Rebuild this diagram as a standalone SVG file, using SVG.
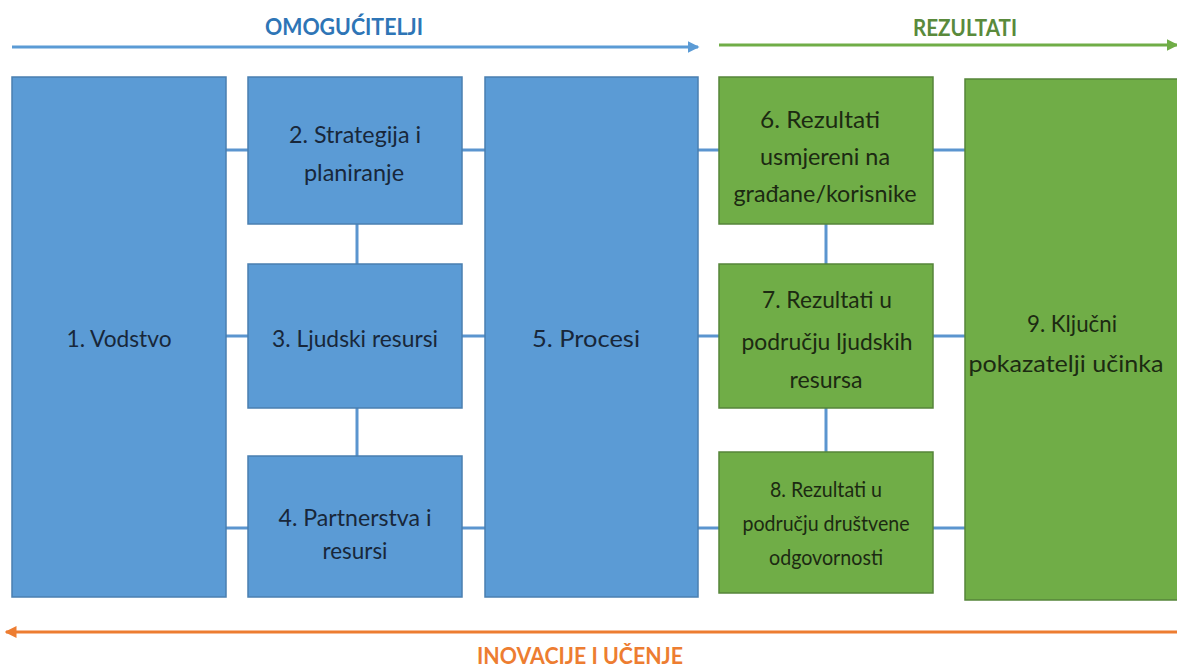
<svg xmlns="http://www.w3.org/2000/svg" width="1177" height="668" viewBox="0 0 1177 668">
<style>
.bg{fill:#ffffff}
.blue{fill:#5B9BD5;stroke:#4A7FB0;stroke-width:1.5}
.green{fill:#70AD47;stroke:#56853A;stroke-width:1.5}
.conn{stroke:#5B95CF;stroke-width:3;fill:none}
.t{font-family:Lato,"Open Sans","Liberation Sans",sans-serif;font-size:24px;text-anchor:middle}
.tb{fill:#18273A}
.tg{fill:#1C2A12}
.s{font-size:21px}
.title{font-family:Lato,"Open Sans","Liberation Sans",sans-serif;font-size:23px;font-weight:bold;text-anchor:middle}
</style>
<defs>
<marker id="ab" markerWidth="4" markerHeight="4" refX="3.5" refY="2" orient="auto" markerUnits="strokeWidth"><path d="M0,0 L4,2 L0,4 Z" fill="#5B9BD5"/></marker>
<marker id="ag" markerWidth="4" markerHeight="4" refX="3.5" refY="2" orient="auto" markerUnits="strokeWidth"><path d="M0,0 L4,2 L0,4 Z" fill="#70AD47"/></marker>
<marker id="ao" markerWidth="4" markerHeight="4" refX="3.5" refY="2" orient="auto" markerUnits="strokeWidth"><path d="M0,0 L4,2 L0,4 Z" fill="#ED7D31"/></marker>
</defs>
<rect class="bg" x="0" y="0" width="1177" height="668"/>

<g id="headers">
<text class="title" x="344" y="35" fill="#2E75B6" textLength="158" lengthAdjust="spacingAndGlyphs">OMOGUĆITELJI</text>
<line x1="12" y1="47" x2="698" y2="47" stroke="#5B9BD5" stroke-width="3" marker-end="url(#ab)"/>
<text class="title" x="965" y="36" fill="#5A8A3C" textLength="104" lengthAdjust="spacingAndGlyphs">REZULTATI</text>
<line x1="719" y1="45" x2="1177" y2="45" stroke="#70AD47" stroke-width="3" marker-end="url(#ag)"/>
<line x1="1177" y1="632" x2="6" y2="632" stroke="#ED7D31" stroke-width="3" marker-end="url(#ao)"/>
<text class="title" x="580" y="664" fill="#ED7D31" textLength="206" lengthAdjust="spacingAndGlyphs">INOVACIJE I UČENJE</text>
</g>

<g id="connectors">
<line class="conn" x1="226" y1="150" x2="248" y2="150"/>
<line class="conn" x1="462" y1="150" x2="485" y2="150"/>
<line class="conn" x1="226" y1="336" x2="248" y2="336"/>
<line class="conn" x1="462" y1="336" x2="485" y2="336"/>
<line class="conn" x1="226" y1="528" x2="248" y2="528"/>
<line class="conn" x1="462" y1="528" x2="485" y2="528"/>
<line class="conn" x1="357" y1="224" x2="357" y2="264"/>
<line class="conn" x1="357" y1="408" x2="357" y2="456"/>
<line class="conn" x1="698" y1="150" x2="719" y2="150"/>
<line class="conn" x1="698" y1="336" x2="719" y2="336"/>
<line class="conn" x1="698" y1="528" x2="719" y2="528"/>
<line class="conn" x1="933" y1="150" x2="965" y2="150"/>
<line class="conn" x1="933" y1="336" x2="965" y2="336"/>
<line class="conn" x1="933" y1="528" x2="965" y2="528"/>
<line class="conn" x1="826" y1="224" x2="826" y2="264"/>
<line class="conn" x1="826" y1="408" x2="826" y2="452"/>
</g>

<g id="n1">
<rect class="blue" x="12" y="77" width="214" height="520"/>
<text class="t tb" x="119" y="347" textLength="105" lengthAdjust="spacingAndGlyphs">1. Vodstvo</text>
</g>
<g id="n2">
<rect class="blue" x="248" y="77" width="214" height="147"/>
<text class="t tb" x="355" y="143" textLength="132" lengthAdjust="spacingAndGlyphs">2. Strategija i</text>
<text class="t tb" x="354" y="181" textLength="100" lengthAdjust="spacingAndGlyphs">planiranje</text>
</g>
<g id="n3">
<rect class="blue" x="248" y="264" width="214" height="144"/>
<text class="t tb" x="355" y="347" textLength="166" lengthAdjust="spacingAndGlyphs">3. Ljudski resursi</text>
</g>
<g id="n4">
<rect class="blue" x="248" y="456" width="214" height="141"/>
<text class="t tb" x="355" y="526" textLength="153" lengthAdjust="spacingAndGlyphs">4. Partnerstva i</text>
<text class="t tb" x="355" y="559" textLength="65" lengthAdjust="spacingAndGlyphs">resursi</text>
</g>
<g id="n5">
<rect class="blue" x="485" y="77" width="213" height="520"/>
<text class="t tb" x="586" y="347" textLength="108" lengthAdjust="spacingAndGlyphs">5. Procesi</text>
</g>
<g id="n6">
<rect class="green" x="719" y="77" width="214" height="147"/>
<text class="t tg" x="820" y="128" textLength="120" lengthAdjust="spacingAndGlyphs">6. Rezultati</text>
<text class="t tg" x="825" y="165" textLength="130" lengthAdjust="spacingAndGlyphs">usmjereni na</text>
<text class="t tg" x="825" y="202" textLength="183" lengthAdjust="spacingAndGlyphs">građane/korisnike</text>
</g>
<g id="n7">
<rect class="green" x="719" y="264" width="214" height="144"/>
<text class="t tg" x="827" y="308" textLength="130" lengthAdjust="spacingAndGlyphs">7. Rezultati u</text>
<text class="t tg" x="827" y="350" textLength="171" lengthAdjust="spacingAndGlyphs">području ljudskih</text>
<text class="t tg" x="826" y="388" textLength="73" lengthAdjust="spacingAndGlyphs">resursa</text>
</g>
<g id="n8">
<rect class="green" x="719" y="452" width="214" height="141"/>
<text class="t s tg" x="826" y="497" textLength="112" lengthAdjust="spacingAndGlyphs">8. Rezultati u</text>
<text class="t s tg" x="826" y="531" textLength="167" lengthAdjust="spacingAndGlyphs">području društvene</text>
<text class="t s tg" x="826" y="565" textLength="114" lengthAdjust="spacingAndGlyphs">odgovornosti</text>
</g>
<g id="n9">
<rect class="green" x="965" y="79" width="214" height="521"/>
<text class="t tg" x="1072" y="332" textLength="90" lengthAdjust="spacingAndGlyphs">9. Ključni</text>
<text class="t tg" x="1066" y="372" textLength="195" lengthAdjust="spacingAndGlyphs">pokazatelji učinka</text>
</g>
</svg>
